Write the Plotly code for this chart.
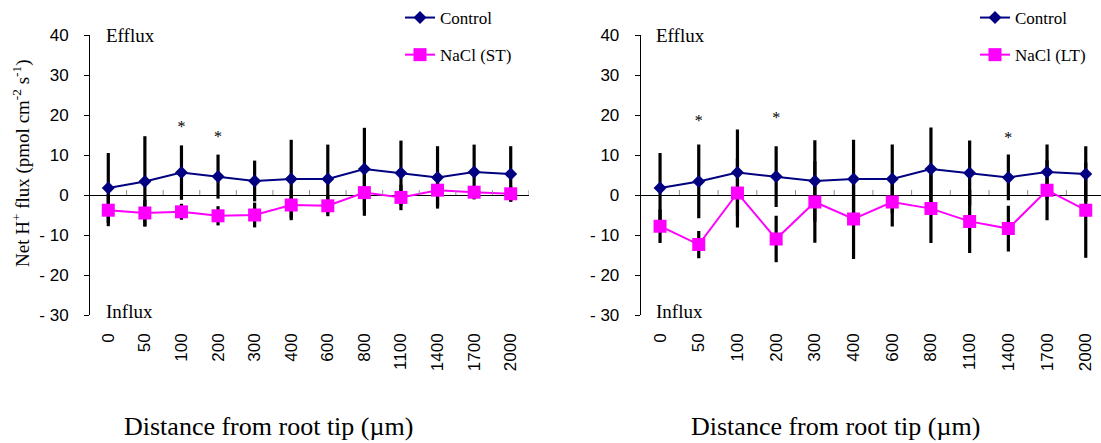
import plotly.graph_objects as go

# Distance from root tip (µm), one category per measuring position
categories = ["0", "50", "100", "200", "300", "400", "600", "800",
              "1100", "1400", "1700", "2000"]

# Panel A: control vs. short-term NaCl
ctrl_a_mean = [1.75, 3.4, 5.6, 4.6, 3.5, 4.0, 4.0, 6.5, 5.5, 4.4, 5.75, 5.25]
ctrl_a_err = [8.75, 11.3, 6.8, 5.5, 5.1, 9.8, 8.6, 10.3, 8.1, 7.8, 6.85, 6.95]
st_mean = [-3.8, -4.5, -4.2, -5.2, -5.0, -2.5, -2.7, 0.6, -0.6, 1.2, 0.7, 0.3]
st_err = [4.0, 3.3, 2.0, 2.4, 3.1, 3.8, 2.6, 5.8, 3.2, 4.0, 1.5, 1.9]

# Panel B: control vs. long-term NaCl
ctrl_b_mean = [1.75, 3.4, 5.6, 4.6, 3.5, 4.0, 4.0, 6.5, 5.5, 4.4, 5.75, 5.25]
ctrl_b_err = [8.75, 9.2, 10.8, 7.6, 10.2, 9.8, 8.6, 10.4, 8.1, 5.7, 6.85, 6.95]
lt_mean = [-7.8, -12.4, 0.5, -11.0, -1.75, -6.0, -1.75, -3.4, -6.6, -8.4, 1.2, -3.8]
lt_err = [4.2, 3.4, 8.6, 5.8, 10.2, 10.0, 6.1, 8.6, 7.9, 5.7, 7.5, 11.9]

# Significance marks (category, height)
sig_a_x = ["100", "200"]
sig_a_y = [16.7, 14.2]
sig_b_x = ["50", "200", "1400"]
sig_b_y = [18.3, 19.0, 13.9]

y_ticks = [-30, -20, -10, 0, 10, 20, 30, 40]
y_ticktext = ["- 30", "- 20", "- 10", "0", "10", "20", "30", "40"]

NAVY = "#000080"
MAGENTA = "#FF00FF"
SERIF = "Liberation Serif, Times New Roman, serif"
SANS = "Liberation Sans, Arial, sans-serif"

W, H = 1101, 443


def px_x(p):
    return p / W


def px_y(p):
    return 1 - p / H


fig = go.Figure()


def err_trace(mean, err, xa, ya):
    return go.Scatter(
        x=categories, y=mean, mode="markers",
        marker=dict(size=1, color="rgba(0,0,0,0)"),
        error_y=dict(type="data", array=err, symmetric=True,
                     color="black", thickness=3.2, width=0),
        showlegend=False, hoverinfo="skip", xaxis=xa, yaxis=ya,
    )


def series(mean, name, color, symbol, size, xa, ya, legend, group):
    return go.Scatter(
        x=categories, y=mean, mode="lines+markers", name=name,
        line=dict(color=color, width=2),
        marker=dict(symbol=symbol, size=size, color=color),
        xaxis=xa, yaxis=ya, legend=legend, legendgroup=group,
    )


def star_trace(xs, ys, xa, ya):
    return go.Scatter(
        x=xs, y=ys, mode="text", text=["*"] * len(xs),
        textposition="middle center",
        textfont=dict(family=SERIF, size=16, color="black"),
        showlegend=False, hoverinfo="skip", xaxis=xa, yaxis=ya,
    )


# error bars sit underneath all lines and markers
fig.add_trace(err_trace(ctrl_a_mean, ctrl_a_err, "x", "y"))
fig.add_trace(err_trace(st_mean, st_err, "x", "y"))
fig.add_trace(err_trace(ctrl_b_mean, ctrl_b_err, "x2", "y2"))
fig.add_trace(err_trace(lt_mean, lt_err, "x2", "y2"))

fig.add_trace(series(ctrl_a_mean, "Control", NAVY, "diamond", 10, "x", "y", "legend", "a1"))
fig.add_trace(series(st_mean, "NaCl (ST)", MAGENTA, "square", 13, "x", "y", "legend", "a2"))
fig.add_trace(series(ctrl_b_mean, "Control", NAVY, "diamond", 10, "x2", "y2", "legend2", "b1"))
fig.add_trace(series(lt_mean, "NaCl (LT)", MAGENTA, "square", 13, "x2", "y2", "legend2", "b2"))

fig.add_trace(star_trace(sig_a_x, sig_a_y, "x", "y"))
fig.add_trace(star_trace(sig_b_x, sig_b_y, "x2", "y2"))

y_dom = [px_y(315), px_y(35)]
n = len(categories)

yaxis_common = dict(
    range=[-30, 40], tickvals=y_ticks, ticktext=y_ticktext,
    showgrid=False, zeroline=True, zerolinecolor="black", zerolinewidth=1,
    showline=True, linecolor="black", linewidth=1,
    ticks="outside", ticklen=5, tickcolor="black", tickwidth=1,
    tickfont=dict(family=SANS, size=17, color="black"),
    ticklabelstandoff=12, domain=y_dom, automargin=False,
)
xaxis_common = dict(
    type="category", categoryarray=categories, categoryorder="array",
    showgrid=False, zeroline=False, showline=False, ticks="",
    tickangle=-90, tickfont=dict(family=SANS, size=17, color="black"),
    ticklabelstandoff=14, automargin=False,
)

fig.update_layout(
    width=W, height=H,
    margin=dict(l=0, r=0, t=0, b=0),
    paper_bgcolor="white", plot_bgcolor="white",
    xaxis=dict(xaxis_common, domain=[px_x(90), px_x(529)], range=[-0.5, n - 0.5], anchor="y"),
    yaxis=dict(yaxis_common, anchor="x"),
    xaxis2=dict(xaxis_common, domain=[px_x(640.7), 1.0], range=[-0.5, n - 0.606], anchor="y2"),
    yaxis2=dict(yaxis_common, anchor="x2"),
    legend=dict(x=px_x(400), y=1.0, xanchor="left", yanchor="top",
                font=dict(family=SERIF, size=17, color="black"),
                bgcolor="rgba(0,0,0,0)", tracegroupgap=12, traceorder="grouped"),
    legend2=dict(x=px_x(975), y=1.0, xanchor="left", yanchor="top",
                 font=dict(family=SERIF, size=17, color="black"),
                 bgcolor="rgba(0,0,0,0)", tracegroupgap=12, traceorder="grouped"),
    showlegend=True,
)

# small marks at category boundaries on the zero line
shapes = []
for xa, ya in (("x", "y"), ("x2", "y2")):
    for i in range(n):
        shapes.append(dict(
            type="line", xref=xa, yref=ya, x0=i + 0.5, x1=i + 0.5,
            ysizemode="pixel", yanchor=0, y0=0, y1=5,
            line=dict(color="#8c8c8c", width=1),
        ))
fig.update_layout(shapes=shapes)

annotations = []
for left in (104, 654):
    annotations.append(dict(x=px_x(left), y=px_y(35), xref="paper", yref="paper",
                            text="Efflux", showarrow=False, xanchor="left", yanchor="middle",
                            font=dict(family=SERIF, size=19, color="black")))
    annotations.append(dict(x=px_x(left), y=px_y(311), xref="paper", yref="paper",
                            text="Influx", showarrow=False, xanchor="left", yanchor="middle",
                            font=dict(family=SERIF, size=19, color="black")))

for cx in (268, 835):
    annotations.append(dict(x=px_x(cx), y=px_y(426), xref="paper", yref="paper",
                            text="Distance from root tip (µm)", showarrow=False,
                            xanchor="center", yanchor="middle",
                            font=dict(family=SERIF, size=26, color="black")))

annotations.append(dict(x=px_x(21), y=px_y(163), xref="paper", yref="paper",
                        text="Net H<sup>+</sup> flux (pmol cm<sup>-2</sup> s<sup>-1</sup>)",
                        textangle=-90, showarrow=False, xanchor="center", yanchor="middle",
                        font=dict(family=SERIF, size=19, color="black")))

fig.update_layout(annotations=annotations)

fig.write_html("out.html")
